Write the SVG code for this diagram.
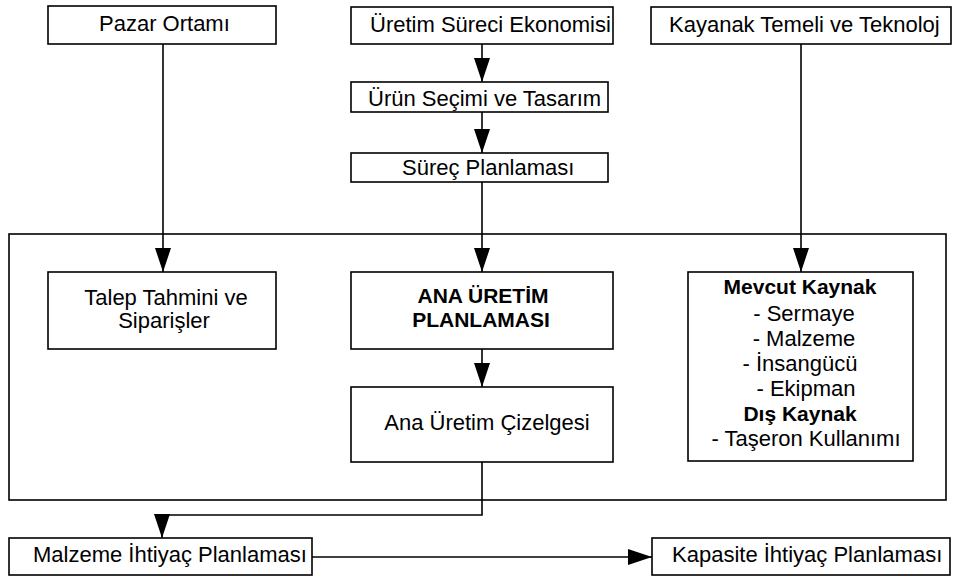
<svg xmlns="http://www.w3.org/2000/svg" width="954" height="579" viewBox="0 0 954 579">
  <style>
    .box { fill: #ffffff; stroke: #000000; stroke-width: 1.6; }
    .frame { fill: none; stroke: #000000; stroke-width: 1.6; }
    .wire { fill: none; stroke: #000000; stroke-width: 1.6; marker-end: url(#head); }
    text { font-family: "Liberation Sans", Arial, sans-serif; font-size: 22px; fill: #000000; }
    .b { font-weight: bold; font-size: 21px; }
    .c { text-anchor: middle; }
  </style>
  <defs>
    <marker id="head" viewBox="0 0 24 16" refX="24" refY="8" markerWidth="24" markerHeight="16" markerUnits="userSpaceOnUse" orient="auto">
      <path d="M0,0 L24,8 L0,16 z" fill="#000000"/>
    </marker>
  </defs>

  <!-- planning frame -->
  <rect id="planning-frame" class="frame" x="9" y="234" width="937" height="266"/>

  <!-- connectors -->
  <g id="connectors">
    <line class="wire" x1="482" y1="44" x2="482" y2="82"/>
    <line class="wire" x1="482" y1="112" x2="482" y2="153"/>
    <line class="wire" x1="482" y1="182" x2="482" y2="272"/>
    <line class="wire" x1="163" y1="44" x2="163" y2="272"/>
    <line class="wire" x1="801" y1="44" x2="801" y2="272"/>
    <line class="wire" x1="482" y1="349" x2="482" y2="387"/>
    <polyline class="wire" points="482,462 482,515 162,515 162,538"/>
    <line class="wire" x1="312" y1="557" x2="652" y2="557"/>
  </g>

  <!-- top row -->
  <g id="pazar-ortami">
    <rect class="box" x="48" y="6" width="228" height="38"/>
    <text x="99" y="31">Pazar Ortamı</text>
  </g>
  <g id="uretim-sureci">
    <rect class="box" x="351" y="7" width="262" height="37"/>
    <text x="370" y="32">Üretim Süreci Ekonomisi</text>
  </g>
  <g id="kaynak-temeli">
    <rect class="box" x="651" y="7" width="300" height="37"/>
    <text x="669" y="32">Kayanak Temeli ve Teknoloj</text>
  </g>

  <!-- middle column -->
  <g id="urun-secimi">
    <rect class="box" x="351" y="82" width="257" height="30"/>
    <text x="368" y="106">Ürün Seçimi ve Tasarım</text>
  </g>
  <g id="surec-planlamasi">
    <rect class="box" x="351" y="153" width="257" height="29"/>
    <text x="402" y="175">Süreç Planlaması</text>
  </g>

  <!-- inside the frame -->
  <g id="talep-tahmini">
    <rect class="box" x="48" y="272" width="228" height="77"/>
    <text class="c" x="166" y="305">Talep Tahmini ve</text>
    <text class="c" x="164" y="328">Siparişler</text>
  </g>
  <g id="ana-uretim-planlamasi">
    <rect class="box" x="351" y="272" width="262" height="77"/>
    <text class="b c" x="483" y="303">ANA ÜRETİM</text>
    <text class="b c" x="481" y="327">PLANLAMASI</text>
  </g>
  <g id="ana-uretim-cizelgesi">
    <rect class="box" x="351" y="387" width="262" height="75"/>
    <text class="c" x="487" y="430">Ana Üretim Çizelgesi</text>
  </g>
  <g id="kaynaklar">
    <rect class="box" x="688" y="272" width="225" height="189"/>
    <text class="b c" x="800" y="294">Mevcut Kaynak</text>
    <text class="c" x="804" y="321">- Sermaye</text>
    <text class="c" x="804" y="346">- Malzeme</text>
    <text class="c" x="800" y="371">- İnsangücü</text>
    <text class="c" x="806" y="396">- Ekipman</text>
    <text class="b c" x="800" y="421">Dış Kaynak</text>
    <text class="c" x="806" y="446">- Taşeron Kullanımı</text>
  </g>

  <!-- bottom row -->
  <g id="malzeme-ihtiyac">
    <rect class="box" x="9" y="538" width="303" height="37"/>
    <text x="33" y="562">Malzeme İhtiyaç Planlaması</text>
  </g>
  <g id="kapasite-ihtiyac">
    <rect class="box" x="652" y="538" width="298" height="37"/>
    <text x="672" y="562">Kapasite İhtiyaç Planlaması</text>
  </g>
</svg>
